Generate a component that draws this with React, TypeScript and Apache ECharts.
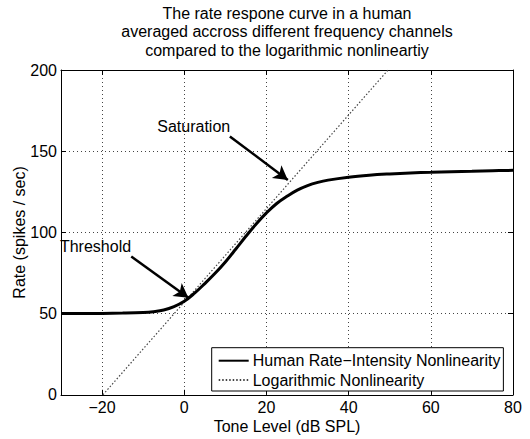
import React, { useEffect, useRef } from "react";
import * as echarts from "echarts";

const titleLines = [
  "The rate respone curve in a human",
  "averaged accross different frequency channels",
  "compared to the logarithmic nonlineartiy",
];
const xAxisName = "Tone Level (dB SPL)";
const yAxisName = "Rate (spikes / sec)";
const seriesNames = ["Human Rate\u2212Intensity Nonlinearity", "Logarithmic Nonlinearity"];

const toneLevels = [-30, -25, -20, -15, -10, -7.5, -5, -2.5, 0, 2.5, 5, 7.5, 10, 12.5, 15, 17.5, 20, 22.5, 25, 27.5, 30, 32.5, 35, 40, 45, 50, 55, 60, 65, 70, 75, 80];
const humanRate = [50.0, 50.0, 50.1, 50.3, 50.7, 51.2, 52.2, 54.3, 57.6, 62.6, 68.5, 74.8, 81.8, 89.6, 97.6, 105.2, 112.0, 117.8, 122.2, 126.0, 128.8, 130.8, 132.2, 134.0, 135.2, 136.0, 136.6, 137.0, 137.4, 137.7, 138.0, 138.2];

const logLevels = [-19.8, 49.6];
const logRate = [0, 200];

const xRange = [-30, 80];
const yRange = [0, 200];

const annotations = [
  { text: "Threshold", label: [-21.6, 91.3], from: [-12.9, 85.2], to: [1.0, 59.8] },
  { text: "Saturation", label: [2.3, 165.2], from: [11.1, 159.1], to: [25.2, 132.3] },
];

const FONT = "Liberation Sans, Arial, Helvetica, sans-serif";

export default function App() {
  const ref = useRef<HTMLDivElement>(null);
  useEffect(() => {
    if (!ref.current) return;
    const chart = echarts.init(ref.current, undefined, { renderer: "svg" });
    const tickCommon = { show: true, inside: true, length: 5, lineStyle: { color: "#000", width: 1 } };
    const axisLineCommon = { show: true, onZero: false, lineStyle: { color: "#000", width: 1 } };
    const gridLine = { show: true, lineStyle: { color: "#444", width: 1, type: [1, 3] as any } };
    const fmtX = (v: number) => (v === xRange[0] ? "" : String(v).replace("-", "\u2212"));
    const fmtY = (v: number) => String(v);
    chart.setOption({
      animation: false,
      backgroundColor: "#fff",
      textStyle: { fontFamily: FONT },
      grid: { left: 61, right: 17, top: 70, bottom: 41, containLabel: false },
      graphic: [
        {
          type: "text",
          x: 287,
          y: 3.75,
          style: {
            text: titleLines.join("\n"),
            font: `16px ${FONT}`,
            lineHeight: 18.5,
            fill: "#000",
            textAlign: "center",
            textVerticalAlign: "top",
          },
        },
      ],
      legend: {
        orient: "vertical",
        left: 211.7,
        top: 347.7,
        data: seriesNames,
        backgroundColor: "#fff",
        borderColor: "#000",
        borderWidth: 1,
        borderRadius: 0,
        padding: [5, 3, 3, 6],
        itemWidth: 30,
        itemHeight: 16,
        itemGap: 3.3,
        itemStyle: { opacity: 0 },
        textStyle: { fontSize: 16, color: "#000", fontFamily: FONT, lineHeight: 16, padding: [0, 0, 0, -1] },
      },
      xAxis: [
        {
          type: "value",
          min: xRange[0],
          max: xRange[1],
          position: "bottom",
          name: xAxisName,
          nameLocation: "middle",
          nameGap: 25.2,
          nameMoveOverlap: false,
          nameTextStyle: { fontSize: 16, lineHeight: 12, color: "#000", fontFamily: FONT },
          axisLine: axisLineCommon,
          axisTick: tickCommon,
          axisLabel: { fontSize: 16, lineHeight: 12, color: "#000", margin: 7, formatter: fmtX, showMinLabel: true, showMaxLabel: true },
          splitLine: gridLine,
        },
        {
          type: "value",
          min: xRange[0],
          max: xRange[1],
          position: "top",
          axisLine: axisLineCommon,
          axisTick: tickCommon,
          axisLabel: { show: false },
          splitLine: { show: false },
        },
      ],
      yAxis: [
        {
          type: "value",
          min: yRange[0],
          max: yRange[1],
          splitNumber: 4,
          position: "left",
          name: yAxisName,
          nameLocation: "middle",
          nameGap: 34,
          nameMoveOverlap: false,
          nameRotate: 90,
          nameTextStyle: { fontSize: 16, color: "#000", fontFamily: FONT },
          axisLine: axisLineCommon,
          axisTick: tickCommon,
          axisLabel: { fontSize: 16, color: "#000", margin: 4, formatter: fmtY },
          splitLine: gridLine,
        },
        {
          type: "value",
          min: yRange[0],
          max: yRange[1],
          splitNumber: 4,
          position: "right",
          axisLine: axisLineCommon,
          axisTick: tickCommon,
          axisLabel: { show: false },
          splitLine: { show: false },
        },
      ],
      series: [
        {
          name: seriesNames[0],
          type: "line",
          xAxisIndex: 0,
          yAxisIndex: 0,
          data: toneLevels.map((x, i) => [x, humanRate[i]]),
          smooth: 0.4,
          symbol: "none",
          z: 5,
          lineStyle: { color: "#000", width: 3 },
          itemStyle: { color: "#000" },
          markLine: {
            silent: true,
            symbol: ["none", "arrow"],
            symbolSize: [12, 14],
            label: { show: false },
            lineStyle: { color: "#000", width: 2.5, type: "solid" },
            data: annotations.map((a) => [{ coord: a.from }, { coord: a.to }]),
          },
          markPoint: {
            silent: true,
            symbol: "rect",
            symbolSize: 1,
            itemStyle: { color: "rgba(0,0,0,0)" },
            label: { show: true, position: "inside", color: "#000", fontSize: 16, fontFamily: FONT, formatter: (p: any) => p.name },
            data: annotations.map((a) => ({ name: a.text, coord: a.label })),
          },
        },
        {
          name: seriesNames[1],
          type: "line",
          xAxisIndex: 0,
          yAxisIndex: 0,
          data: logLevels.map((x, i) => [x, logRate[i]]),
          symbol: "none",
          z: 4,
          lineStyle: { color: "#444", width: 1.2, type: [1.5, 2] as any },
          itemStyle: { color: "#444" },
        },
      ],
    });
    return () => chart.dispose();
  }, []);
  return <div ref={ref} style={{ width: 530, height: 439, position: "absolute", left: 0, top: 0 }} />;
}
